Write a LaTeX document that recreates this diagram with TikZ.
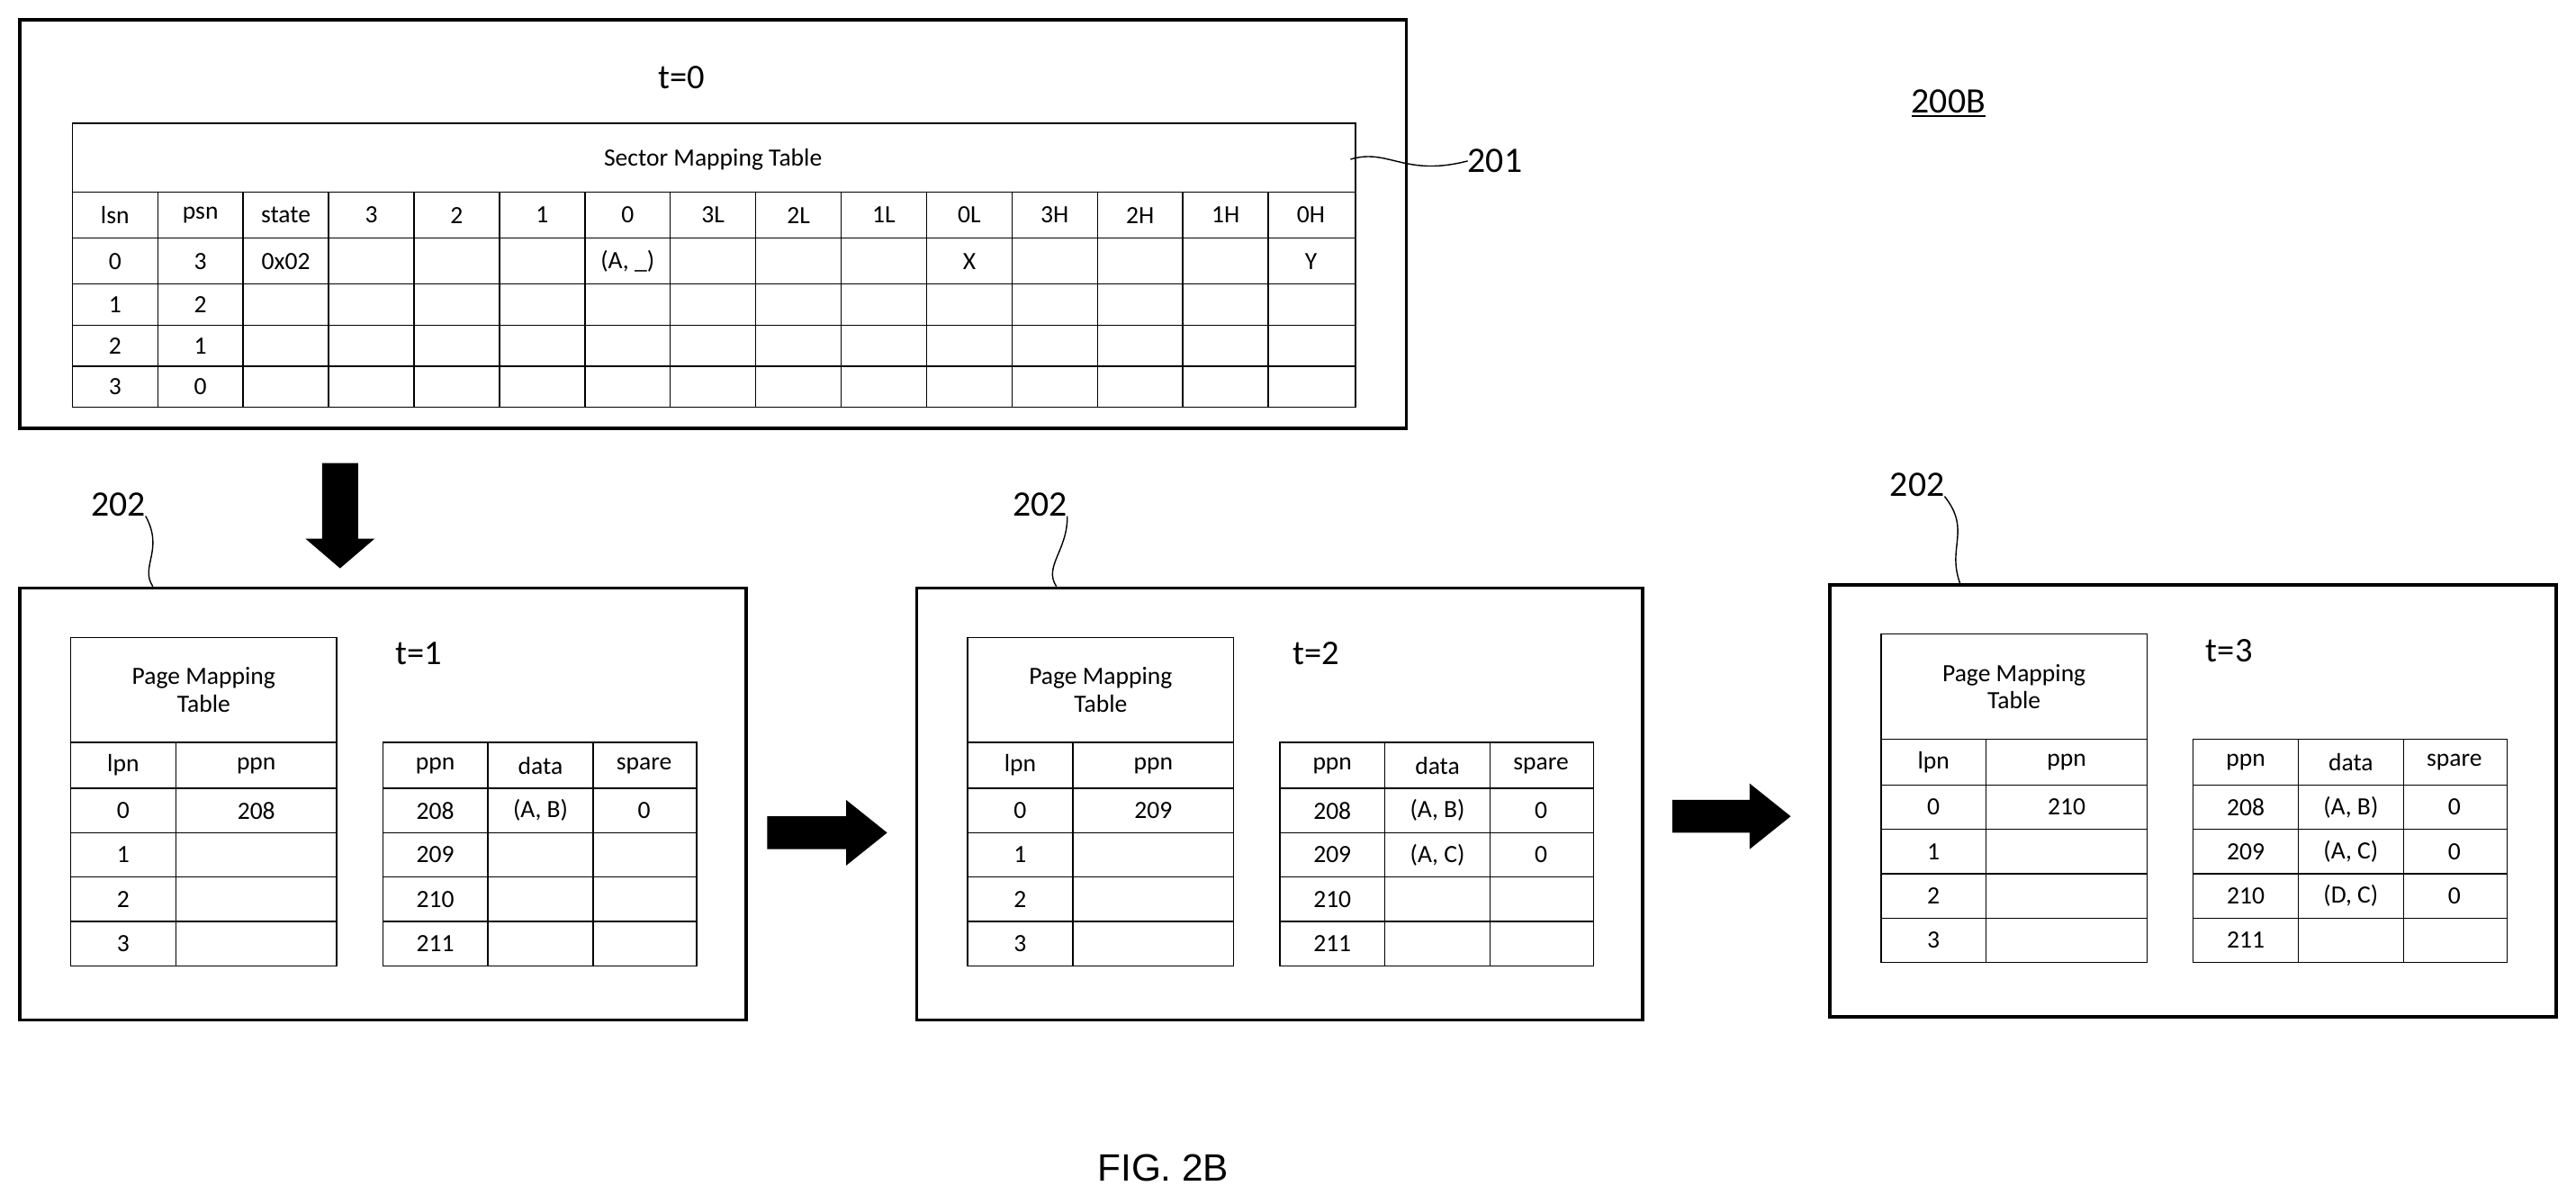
\documentclass[tikz,border=0pt]{standalone}
\usepackage{fontspec}
\setmainfont{Carlito}
\newfontfamily\arialf{Liberation Sans}
\newcommand\cellsz{\fontsize{43}{47}\selectfont}
\newcommand\myPage[5]{%
\begin{scope}[xshift=#1cm,yshift=#2cm]
\draw[frame] (12,358) rectangle (454,621);
\node[tt] (t#3) at (255,398) {t=#3};
\draw[grid] (43,388) rectangle (205,588);
\foreach \y in {452,480,507,534,561} \draw[grid] (43,\y) -- (205,\y);
\draw[grid] (107,452) -- (107,588);
\node[cell,align=center] (pmt#3) at (124,420) {Page Mapping\\Table};
\node[cell] (lpnh#3) at (75,466) {lpn};
\node[cell] (ppnh#3) at (156,466) {ppn};
\foreach \v [count=\i from 0] in {0,1,2,3} \node[cell] (lp#3\i) at (75,{493.5+27*\i}) {\v};
\node[cell] (pv#3) at (156,493.5) {#4};
\draw[grid] (233,452) rectangle (424,588);
\foreach \y in {480,507,534,561} \draw[grid] (233,\y) -- (424,\y);
\draw[grid] (297,452) -- (297,588) (361,452) -- (361,588);
\node[cell] (rh1#3) at (265,466) {ppn};
\node[cell] (rh2#3) at (329,466) {data};
\node[cell] (rh3#3) at (392,466) {spare};
\foreach \v [count=\i from 0] in {208,209,210,211} \node[cell] (rp#3\i) at (265,{493.5+27*\i}) {\v};
#5
\end{scope}}
\begin{document}
\begin{tikzpicture}[x=0.1cm,y=-0.1cm,
 frame/.style={line width=6pt},
 grid/.style={line width=2.2pt},
 cell/.style={font=\cellsz,inner sep=0pt},
 tt/.style={font=\fontsize{60}{66}\selectfont,inner sep=0pt},
 lbl/.style={font=\fontsize{62}{68}\selectfont,inner sep=0pt}]
\useasboundingbox (0,0) rectangle (1568,733);
% top box
\draw[frame] (12,12) rectangle (856,261);
\node[tt] (t0) at (415,47) {t=0};
\draw[grid] (44,75) rectangle (825,248);
\node[cell] (smt) at (434,97) {Sector Mapping Table};
\foreach \y in {117,145,173,198,223} \draw[grid] (44,\y) -- (825,\y);
\foreach \x in {96,148,...,773} \draw[grid] (\x,117) -- (\x,248);
\foreach \v [count=\i from 0] in {lsn,psn,state,3,2,1,0,3L,2L,1L,0L,3H,2H,1H,0H}
  \node[cell] (h\i) at ({70+52*\i},131) {\v};
\foreach \v/\i in {0/0,3/1,0x02/2,{(A, \_)}/6,X/10,Y/14}
  \node[cell] (r0\i) at ({70+52*\i},159) {\v};
\node[cell] (r10) at (70,185.5) {1}; \node[cell] (r11) at (122,185.5) {2};
\node[cell] (r20) at (70,210.5) {2}; \node[cell] (r21) at (122,210.5) {1};
\node[cell] (r30) at (70,235.5) {3}; \node[cell] (r31) at (122,235.5) {0};
\node[lbl] (l201) at (910,98) {201};
\coordinate (c201) at (822,97);
\draw[line width=2.2pt] (c201) .. controls (845,90) and (855,108) .. (l201.west);
\node[lbl] (l200) at (1186,62) {200B};
\draw[line width=2.2pt] ([yshift=-4pt]l200.south west) -- ([yshift=-4pt]l200.south east);
% block arrows
\fill (196,282) -- (218,282) -- (218,328) -- (228,328) -- (207,346) -- (186,328) -- (196,328) -- cycle;
\fill (467,497) -- (515,497) -- (515,487) -- (540,507) -- (515,527) -- (515,517) -- (467,517) -- cycle;
\fill (1018,487) -- (1065,487) -- (1065,477) -- (1090,497) -- (1065,517) -- (1065,507) -- (1018,507) -- cycle;
% pages
\myPage{0}{0}{1}{208}{\node[cell] (d10) at (329,493.5) {(A, B)}; \node[cell] (s10) at (392,493.5) {0};}
\myPage{54.6}{0}{2}{209}{\node[cell] (d20) at (329,493.5) {(A, B)}; \node[cell] (s20) at (392,493.5) {0};
 \node[cell] (d21) at (329,520.5) {(A, C)}; \node[cell] (s21) at (392,520.5) {0};}
\myPage{110.2}{0.2}{3}{210}{\node[cell] (d30) at (329,493.5) {(A, B)}; \node[cell] (s30) at (392,493.5) {0};
 \node[cell] (d31) at (329,520.5) {(A, C)}; \node[cell] (s31) at (392,520.5) {0};
 \node[cell] (d32) at (329,547.5) {(D, C)}; \node[cell] (s32) at (392,547.5) {0};}
% 202 labels
\node[lbl] (a) at (72,307) {202};
\node[lbl] (b) at (633,307) {202};
\node[lbl] (c) at (1167,295) {202};
\coordinate (ea) at (93,357); \coordinate (eb) at (643,357); \coordinate (ec) at (1193,355);
\draw[line width=2.2pt] (a.south east) .. controls (100,335) and (85,345) .. (ea);
\draw[line width=2.2pt] (b.south east) .. controls (650,335) and (635,345) .. (eb);
\draw[line width=2.2pt] (c.south east) .. controls (1200,323) and (1185,333) .. (ec);
\node[font=\arialf\fontsize{66}{70}\selectfont,inner sep=0pt] (fig) at (708,711) {FIG. 2B};
\end{tikzpicture}
\end{document}
